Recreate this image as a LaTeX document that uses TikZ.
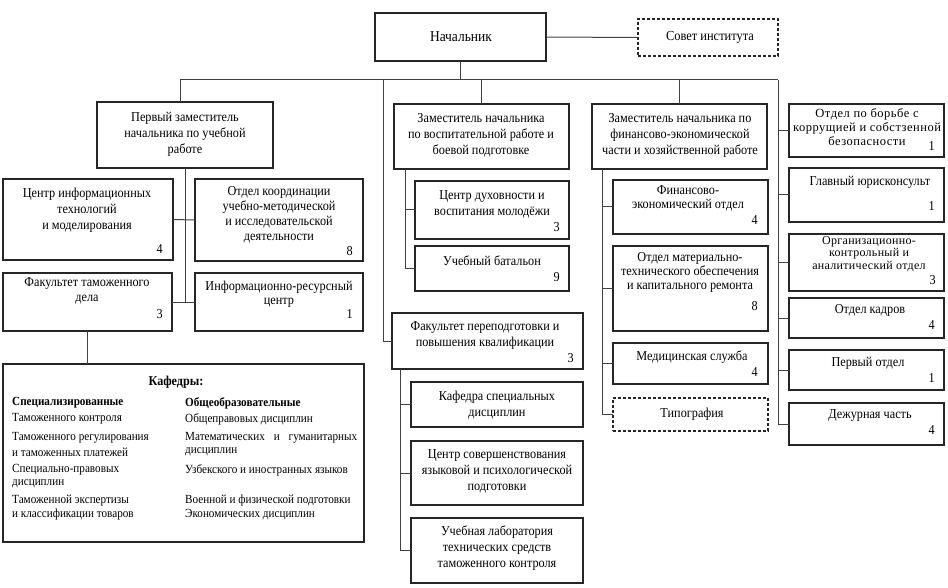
\documentclass[tikz,border=0pt]{standalone}
\usepackage{fontspec}
\setmainfont{Liberation Serif}[FakeStretch=0.9]
\newfontfamily\widefont{Liberation Serif}[LetterSpace=4]
\newfontfamily\widefontb{Liberation Serif}[LetterSpace=2.5]
\newcommand\ubox[6][]{\node[box,#1,minimum width={(#5-#3)*1pt},minimum height={(#6-#4)*1pt}] (#2) at ({(#3+#5)/2},{(#4+#6)/2}) {};}
\tikzset{
  box/.style={draw=black!85, line width=1.1pt, inner sep=0pt, outer sep=0pt, fill=white},
  dbox/.style={dash pattern=on 3pt off 2pt},
  ln/.style={draw=black!75, line width=1pt},
  tx/.style={align=center, inner sep=0pt, font=\fontsize{13.6}{16}\selectfont},
  wtx/.style={align=center, inner sep=0pt, font=\widefont\fontsize{12.5}{14}\selectfont},
  nm/.style={anchor=east, inner sep=0pt, font=\fontsize{13.6}{15}\selectfont},
  kt/.style={anchor=west, inner sep=0pt, font=\fontsize{12.4}{14}\selectfont},
  kb/.style={anchor=west, inner sep=0pt, font=\bfseries\fontsize{12.4}{14}\selectfont},
}
\begin{document}
\begin{tikzpicture}[x=1pt,y=-1pt]
\useasboundingbox (0,0) rectangle (948,588);
% boxes
\ubox{nach}{375}{13}{546}{61}
\ubox[dbox]{sovet}{638}{19}{778}{56}
\ubox{z1}{97}{102}{273}{168}
\ubox{z2}{394}{104}{569}{169}
\ubox{z3}{592}{104}{767}{169}
\ubox{r1}{789}{104}{944}{157}
\ubox{r2}{789}{168}{944}{222}
\ubox{r3}{789}{234}{944}{291}
\ubox{r4}{789}{298}{944}{338}
\ubox{r5}{789}{350}{944}{390}
\ubox{r6}{789}{403}{944}{445}
\ubox{l1}{3}{179}{173}{260}
\ubox{l2}{195}{179}{363}{261}
\ubox{l3}{3}{273}{172}{331}
\ubox{l4}{195}{273}{363}{331}
\ubox{kaf}{3}{364}{364}{542}
\ubox{m1}{415}{181}{569}{239}
\ubox{m2}{415}{246}{569}{291}
\ubox{m3}{392}{313}{583}{369}
\ubox{m4}{411}{382}{583}{427}
\ubox{m5}{411}{441}{583}{505}
\ubox{m6}{411}{518}{583}{583}
\ubox{f1}{613}{180}{768}{234}
\ubox{f2}{613}{246}{768}{331}
\ubox{f3}{613}{343}{768}{384}
\ubox[dbox]{f4}{613}{398}{768}{431}
% texts
\node[tx,font=\fontsize{15}{18}\selectfont] (tnach) at (461,37) {Начальник};
\node[tx,font=\fontsize{13.8}{16}\selectfont] (tsov) at (710,37) {Совет института};
\node[tx] (tz1) at (185,134) {Первый заместитель\\начальника по учебной\\работе};
\node[tx] (tz2) at (481,135) {Заместитель начальника\\по воспитательной работе и\\боевой подготовке};
\node[tx] (tz3) at (680,135) {Заместитель начальника по\\финансово-экономической\\части и хозяйственной работе};
\node[wtx] (tr1) at (867,127) {Отдел по борьбе с\\коррущией и собстзенной\\безопасности};
\node[nm] (nr1) at (935,146) {1};
\node[tx] (tr2) at (870,182) {Главный юрисконсульт};
\node[nm] (nr2) at (935,206) {1};
\node[wtx,font=\widefontb\fontsize{12}{12.5}\selectfont] (tr3) at (869,254) {Организационно-\\контрольный и\\аналитический отдел};
\node[nm] (nr3) at (936,280) {3};
\node[tx] (tr4) at (870,310) {Отдел кадров};
\node[nm] (nr4) at (935,325) {4};
\node[tx] (tr5) at (868,363) {Первый отдел};
\node[nm] (nr5) at (935,378) {1};
\node[tx] (tr6) at (870,416) {Дежурная часть};
\node[nm] (nr6) at (935,430) {4};
\node[tx] (tl1) at (87,210) {Центр информационных\\технологий\\и моделирования};
\node[nm] (nl1) at (163,249) {4};
\node[tx,font=\fontsize{13.6}{15}\selectfont] (tl2) at (279,215) {Отдел координации\\учебно-методической\\и исследовательской\\деятельности};
\node[nm] (nl2) at (353,251) {8};
\node[tx,font=\fontsize{13.6}{15}\selectfont] (tl3) at (87,290.5) {Факультет таможенного\\дела};
\node[nm] (nl3) at (163,314) {3};
\node[tx,font=\fontsize{13.6}{14.5}\selectfont] (tl4) at (279,294) {Информационно-ресурсный\\центр};
\node[nm] (nl4) at (353,314) {1};
\node[tx] (tm1) at (492,204) {Центр духовности и\\воспитания молодёжи};
\node[nm] (nm1) at (560,227) {3};
\node[tx] (tm2) at (492,261) {Учебный батальон};
\node[nm] (nm2) at (560,277) {9};
\node[tx] (tm3) at (485,335) {Факультет переподготовки и\\повышения квалификации};
\node[nm] (nm3) at (574,358) {3};
\node[tx] (tm4) at (497,405.5) {Кафедра специальных\\дисциплин};
\node[tx] (tm5) at (497,471.5) {Центр совершенствования\\языковой и психологической\\подготовки};
\node[tx] (tm6) at (497,548.5) {Учебная лаборатория\\технических средств\\таможенного контроля};
\node[tx,font=\fontsize{13.6}{14}\selectfont] (tf1) at (688,198) {Финансово-\\экономический отдел};
\node[nm] (nf1) at (758,220) {4};
\node[tx,font=\fontsize{13.6}{14}\selectfont] (tf2) at (690,272) {Отдел материально-\\технического обеспечения\\и капитального ремонта};
\node[nm] (nf2) at (758,306) {8};
\node[tx] (tf3) at (692,357) {Медицинская служба};
\node[nm] (nf3) at (758,372) {4};
\node[tx] (tf4) at (692,414) {Типография};
% Kafedry content
\node[inner sep=0pt,font=\bfseries\fontsize{13.5}{15}\selectfont] (ktitle) at (176,382) {Кафедры:};
\node[kb] (k1) at (12,403) {Специализированные};
\node[kt] (k2) at (12,419) {Таможенного контроля};
\node[kt] (k3) at (12,438) {Таможенного регулирования};
\node[kt] (k4) at (12,452) {и таможенных платежей};
\node[kt] (k5) at (12,470) {Специально-правовых};
\node[kt] (k6) at (12,484) {дисциплин};
\node[kt] (k7) at (12,501) {Таможенной экспертизы};
\node[kt] (k8) at (12,515) {и классификации товаров};
\node[kb] (k9) at (185,403) {Общеобразовательные};
\node[kt] (k10) at (185,419) {Общеправовых дисциплин};
\node[kt] (k11) at (185,438) {\makebox[172pt][s]{Математических\hfill и\hfill гуманитарных}};
\node[kt] (k12) at (185,452) {дисциплин};
\node[kt] (k13) at (185,470) {Узбекского и иностранных языков};
\node[kt] (k14) at (185,501) {Военной и физической подготовки};
\node[kt] (k15) at (185,515) {Экономических дисциплин};
% connectors
\coordinate (busL) at (180,80);
\coordinate (busM) at (383,80);
\coordinate (busR) at (778,80);
\draw[ln] (nach.east) -- (sovet.west);
\draw[ln] (nach.south) -- (nach.south |- busR);
\draw[ln] (busL) -- (busR);
\draw[ln] (busL) -- (busL |- z1.north);
\draw[ln] (z2.north) -- (z2.north |- busL);
\draw[ln] (z3.north) -- (z3.north |- busL);
\draw[ln] (busM) |- (m3.west);
\draw[ln] (busR) |- (r6.west);
\foreach \r in {r1,r2,r3,r4,r5} \draw[ln] (busR |- \r.west) -- (\r.west);
% left subtree
\draw[ln] (z1.south) -- (z1.south |- l3.east);
\draw[ln] (l1.east) -- (l2.west);
\draw[ln] (l3.east) -- (l4.west);
\draw[ln] (l3.south) -- (l3.south |- kaf.north);
% z2 subtree
\coordinate (v2) at ([xshift=11pt]z2.south west);
\draw[ln] (v2) |- (m2.west);
\draw[ln] (v2 |- m1.west) -- (m1.west);
% m3 subtree
\coordinate (v3) at ([xshift=8pt]m3.south west);
\draw[ln] (v3) |- (m6.west);
\foreach \m in {m4,m5} \draw[ln] (v3 |- \m.west) -- (\m.west);
% z3 subtree
\coordinate (v4) at ([xshift=10pt]z3.south west);
\draw[ln] (v4) |- (f4.west);
\foreach \f in {f1,f2,f3} \draw[ln] (v4 |- \f.west) -- (\f.west);
\end{tikzpicture}
\end{document}
